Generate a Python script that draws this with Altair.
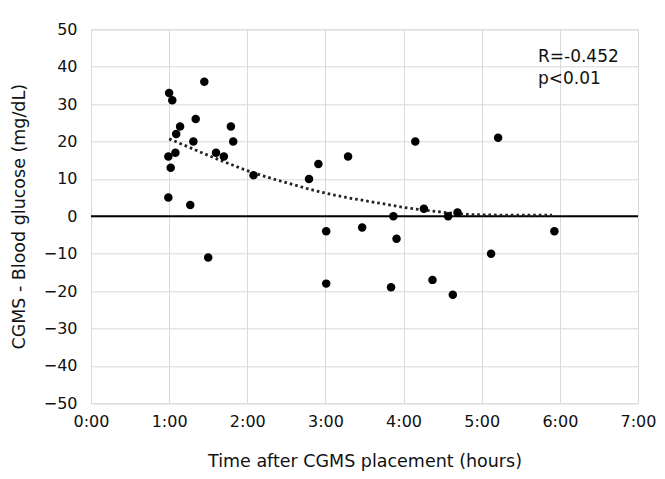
import altair as alt
import pandas as pd

# Scatter points: hours after placement, CGMS - blood glucose (mg/dL)
hours = [1.00, 1.04, 1.45, 1.34, 1.14, 1.09, 1.79, 1.82, 1.31, 0.99, 1.08, 1.02,
         1.60, 1.70, 2.08, 0.99, 1.27, 1.50,
         2.79, 2.91, 3.29, 4.15, 4.26, 3.87, 4.57, 4.69, 3.01, 3.47, 3.91, 3.01,
         3.84, 4.37, 4.63,
         5.21, 5.93, 5.12]
diffs = [33, 31, 36, 26, 24, 22, 24, 20, 20, 16, 17, 13,
         17, 16, 11, 5, 3, -11,
         10, 14, 16, 20, 2, 0, 0, 1, -4, -3, -6, -18,
         -19, -17, -21,
         21, -4, -10]

# Dotted trend line
trend_h = [1.0, 1.25, 1.5, 1.75, 2.0, 2.25, 2.5, 2.75, 3.0, 3.25, 3.5, 3.75,
           4.0, 4.25, 4.5, 4.75, 5.0, 5.5, 5.9]
trend_v = [20.7, 18.5, 16.3, 14.2, 12.2, 10.5, 9.0, 7.5, 6.2, 5.1, 4.2, 3.3,
           2.4, 1.7, 1.1, 0.6, 0.4, 0.3, 0.3]

# Annotation
note_text = ["R=-0.452", "p<0.01"]
note_h = [5.72, 5.72]
note_v = [42.6, 36.6]

x_ticks = [0, 1, 2, 3, 4, 5, 6, 7]
y_ticks = [-50, -40, -30, -20, -10, 0, 10, 20, 30, 40, 50]

FONT = "DejaVu Sans"
TXT = "#111111"

pts = pd.DataFrame({"h": hours, "v": diffs})
trend = pd.DataFrame({"h": trend_h, "v": trend_v})
notes = pd.DataFrame({"h": note_h, "v": note_v, "t": note_text})
zero = pd.DataFrame({"v": [0]})

xscale = alt.Scale(domain=[0, 7], nice=False, zero=False)
yscale = alt.Scale(domain=[-50, 50], nice=False)

xaxis = alt.Axis(values=x_ticks, labelExpr="datum.value + ':00'",
                 title="Time after CGMS placement (hours)",
                 grid=True, gridColor="#d9d9d9", gridWidth=1,
                 domain=False, ticks=False, labelPadding=10, labelOverlap=False,
                 labelFlush=False,
                 labelFont=FONT, labelFontSize=16, labelColor=TXT,
                 titleFont=FONT, titleFontSize=17.5, titleFontWeight="normal",
                 titleColor=TXT, titleY=58, titleBaseline="middle")
yaxis = alt.Axis(values=y_ticks, title="CGMS - Blood glucose (mg/dL)",
                 grid=True, gridColor="#d9d9d9", gridWidth=1,
                 domain=False, ticks=False, labelPadding=14, labelOverlap=False,
                 labelFlush=False,
                 labelFont=FONT, labelFontSize=16, labelColor=TXT,
                 titleFont=FONT, titleFontSize=17.5, titleFontWeight="normal",
                 titleColor=TXT, titleX=-72, titleBaseline="middle")

X = alt.X("h:Q", scale=xscale, axis=xaxis)
Y = alt.Y("v:Q", scale=yscale, axis=yaxis)

zero_line = alt.Chart(zero).mark_rule(color="black", strokeWidth=2).encode(y=Y)

trend_line = alt.Chart(trend).mark_line(
    color="#222222", strokeWidth=2.8, strokeDash=[2.6, 3.0], interpolate="monotone"
).encode(x=X, y=Y)

base_pts = alt.Chart(pts).mark_circle(size=72, color="black", opacity=1).encode(x=X, y=Y)

note_marks = alt.Chart(notes).mark_text(
    align="left", baseline="middle", font=FONT, fontSize=17, color=TXT
).encode(x=X, y=Y, text="t:N")

chart = alt.layer(zero_line, trend_line, base_pts, note_marks).properties(
    width=547, height=374,
    autosize=alt.AutoSizeParams(type="none"),
    padding={"left": 83, "top": 21.3, "right": 19, "bottom": 68},
).configure_view(stroke=None).configure(background="white")

chart.save("out.html", embed_options={"renderer": "svg", "actions": False})
